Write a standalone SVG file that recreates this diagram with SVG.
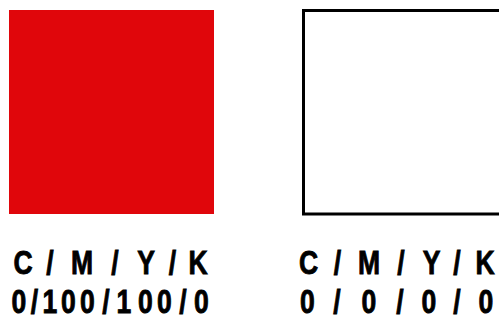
<svg xmlns="http://www.w3.org/2000/svg" width="499" height="320" viewBox="0 0 499 320">
<style>
.lbl{font-family:"Liberation Sans",Arial,sans-serif;font-weight:bold;font-size:34px;fill:#000;stroke:#000;stroke-width:0.9;text-anchor:middle}
</style>
<rect width="499" height="320" fill="#fff"/>
<g id="red-swatch">
<rect x="9" y="10" width="205" height="204" fill="#E0060B"/>
<text class="lbl" transform="scale(0.78,1)" y="274.5" x="29.49 47.44 64.10 84.62 105.13 125.64 147.44 166.67 187.18 203.85 221.15 237.18 253.85">C / M / Y / K</text>
<text class="lbl" transform="scale(0.78,1)" y="313" x="24.36 44.23 64.10 87.82 112.18 135.90 158.97 186.54 210.90 234.62 258.33">0/100/100/0</text>
</g>
<g id="white-swatch">
<rect x="303.5" y="10.5" width="200" height="203.5" fill="#fff" stroke="#000" stroke-width="3"/>
<text class="lbl" transform="scale(0.78,1)" y="274.5" x="395.51 414.10 432.69 452.56 473.08 493.59 514.10 533.33 553.21 569.23 585.90 603.85 621.79">C / M / Y / K</text>
<text class="lbl" transform="scale(0.78,1)" y="313" x="394.23 412.82 432.05 452.56 473.08 492.31 512.82 532.05 550.00 567.95 585.90 603.85 623.08">0 / 0 / 0 / 0</text>
</g>
<g id="connectors"/>
</svg>
